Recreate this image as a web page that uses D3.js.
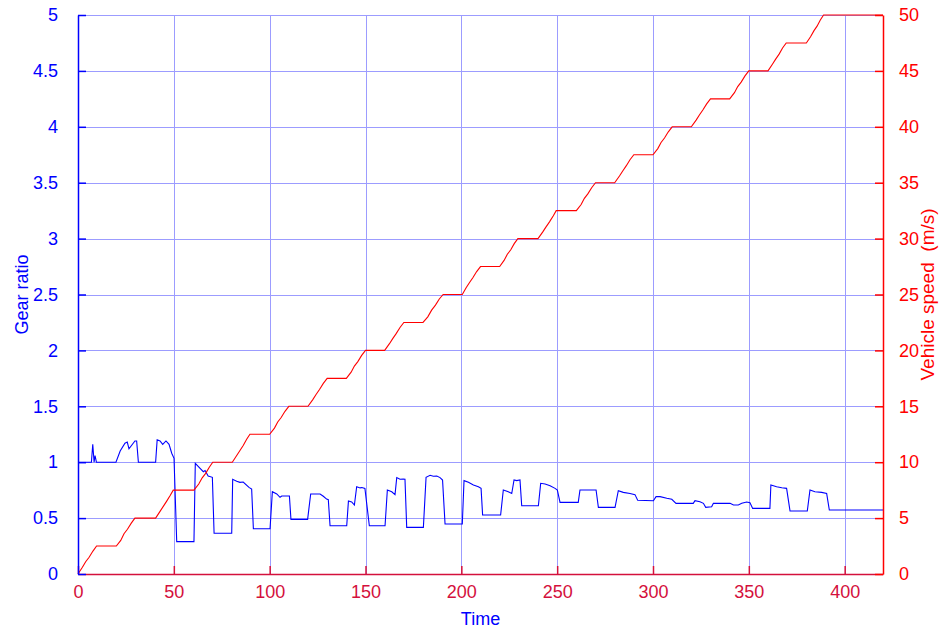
<!DOCTYPE html>
<html><head><meta charset="utf-8">
<script src="https://cdn.jsdelivr.net/npm/d3@7"></script>
<style>body{margin:0;background:#fff}svg{display:block}text{font-family:"Liberation Sans",Arial,sans-serif}</style>
</head><body><svg id="c" width="941" height="632"></svg>
<script>
const xTicks = [0,50,100,150,200,250,300,350,400];
const gearTicks = [0,0.5,1,1.5,2,2.5,3,3.5,4,4.5,5];
const speedTicks = [0,5,10,15,20,25,30,35,40,45,50];

const gearTime = [0,7.0,7.7,8.4,8.9,9.6,19.8,22,24.5,25.7,26.6,29.7,30.6,31.5,40.5,41.3,42.8,44.2,45.9,47.5,48.9,50.1,51.5,60.5,61.2,63.7,65.4,66.3,67.9,70.1,71,80.2,80.7,82.8,84.5,86.2,89.2,90.6,91.5,100.2,101.4,103.7,105.4,106.3,110.3,111.1,119.8,121.4,126.3,128,129.7,130.6,131.5,140.2,141.1,142.8,144.2,145.4,147.2,148.1,149.7,152,160.2,161.4,163.7,165.4,166.3,168,169.7,170.6,171.5,180.2,181.6,183.7,185.4,187.2,188.9,190.2,191.5,200.5,201.4,203.7,206.3,208.9,210.3,211.1,220.5,221.9,224.5,226.3,227.5,228.9,230.6,231.5,240.2,241.4,243.7,246.3,248.9,250.1,251.5,261,261.9,270.3,271.5,280.2,281.9,284.5,288,290.6,292,300.2,301.6,303.7,307.2,309.8,312,321,321.9,324.5,326.3,327.5,330.6,331.5,340.2,342,344.5,346.3,348.9,350.6,352,361,361.5,364.5,367.2,369.7,371.5,380.5,381.9,384.5,388,390.6,392,420];
const gearRatio = [1,1,1.16,1.0,1.06,1.0,1.0,1.1,1.17,1.18,1.12,1.19,1.19,1.0,1.0,1.2,1.19,1.16,1.19,1.16,1.08,1.035,0.29,0.29,0.99,0.945,0.915,0.925,0.877,0.865,0.364,0.364,0.847,0.83,0.82,0.823,0.775,0.76,0.405,0.405,0.736,0.716,0.686,0.698,0.698,0.489,0.489,0.716,0.716,0.695,0.67,0.665,0.432,0.432,0.653,0.645,0.617,0.781,0.77,0.773,0.765,0.432,0.432,0.751,0.736,0.71,0.862,0.847,0.85,0.847,0.417,0.417,0.865,0.883,0.874,0.877,0.862,0.84,0.447,0.447,0.835,0.82,0.796,0.781,0.766,0.528,0.528,0.751,0.736,0.72,0.841,0.835,0.841,0.611,0.611,0.811,0.805,0.79,0.766,0.751,0.641,0.641,0.751,0.751,0.596,0.596,0.745,0.73,0.72,0.71,0.66,0.655,0.692,0.692,0.677,0.668,0.632,0.632,0.656,0.647,0.632,0.596,0.602,0.632,0.632,0.617,0.617,0.632,0.644,0.638,0.587,0.587,0.796,0.781,0.772,0.766,0.563,0.563,0.751,0.736,0.73,0.72,0.572,0.572];

const speedTime = [0,2.3,4,5.8,7.8,9.7, 20,22.3,24,25.8,27.8,29.7, 40.5,42.8,44.5,46.2,48,49.7, 60.5,63,64.8,66.6,68.5,70.3, 80.5,82.8,84.5,86.2,88,89.7, 100,102.5,104.2,106,108,110, 120,122.5,124.2,126,128,130, 140,142.5,144.2,146,148,150, 160,162.5,164.2,166,168,170, 180,182.5,184.5,186.5,188.5,190.5, 200.5,202.5,204.2,206,208,210, 220,222.3,224,225.8,227.6,229.5, 240,242.5,244.2,246,248,249.5, 260,262.5,264.2,266,268,270, 280,282.5,284.2,286,288,290, 300,302.5,304.2,306,308,310, 320,322.5,324.2,326,328,330, 340,342.5,344.2,346,348,350, 360,362.3,364,365.8,367.6,369.5, 380,382.2,384,385.6,387.3,389, 420];
const speedValue = [0,0.6,1.1,1.5,2.05,2.5, 2.5,3.0,3.6,4.0,4.55,5.0, 5,5.6,6.05,6.5,7.0,7.5, 7.5,8.05,8.6,9.0,9.55,10, 10,10.6,11.05,11.5,12.05,12.5, 12.5,13.05,13.6,14.0,14.55,15, 15,15.6,16.05,16.5,17.05,17.5, 17.5,18.05,18.6,19.0,19.55,20, 20,20.6,21.05,21.5,22.05,22.5, 22.5,23.0,23.6,24.05,24.6,25, 25,25.6,26.05,26.5,27.05,27.5, 27.5,28.05,28.6,29.0,29.55,30, 30,30.6,31.05,31.5,32.05,32.5, 32.5,33.05,33.6,34.0,34.55,35, 35,35.6,36.05,36.5,37.05,37.5, 37.5,38.05,38.6,39.0,39.55,40, 40,40.6,41.05,41.5,42.05,42.5, 42.5,43.05,43.6,44.0,44.55,45, 45,45.6,46.05,46.5,47.05,47.5, 47.5,48.05,48.6,49.0,49.55,50, 50];

const L = 78, R = 883, T = 15, B = 574;
const BLUE = "#0000ff", RED = "#ff0000", XCOL = "#d4103c", GRID = "#9c9cff";
const svg = d3.select("#c");
const x = d3.scaleLinear().domain([0,420]).range([L,R]);
const yG = d3.scaleLinear().domain([0,5]).range([B,T]);
const yS = d3.scaleLinear().domain([0,50]).range([B,T]);
const cr = v => Math.round(v) + 0.5;

// grid
const g = svg.append("g");
xTicks.filter(d=>d>0).forEach(d => g.append("line").attr("x1",cr(x(d))).attr("x2",cr(x(d))).attr("y1",T).attr("y2",B).attr("stroke",GRID).attr("stroke-width",1));
gearTicks.filter(d=>d>0).forEach(d => g.append("line").attr("x1",L).attr("x2",R).attr("y1",cr(yG(d))).attr("y2",cr(yG(d))).attr("stroke",GRID).attr("stroke-width",1));

// lines
const gearLine = d3.line().x(d=>x(d[0])).y(d=>yG(d[1]));
const speedLine = d3.line().x(d=>x(d[0])).y(d=>yS(d[1]));
svg.append("path").attr("d", gearLine(d3.zip(gearTime, gearRatio))).attr("fill","none").attr("stroke",BLUE).attr("stroke-width",1.1);
svg.append("path").attr("d", speedLine(d3.zip(speedTime, speedValue))).attr("fill","none").attr("stroke",RED).attr("stroke-width",1.1);

// axes
const fs = "18px";
const ax = svg.append("g").attr("transform",`translate(0,${cr(B)-0.5})`)
  .call(d3.axisBottom(x).tickValues(xTicks).tickSizeInner(-8).tickSizeOuter(0).tickPadding(11));
ax.selectAll("path,line").attr("stroke",XCOL).attr("stroke-width",1.5);
ax.selectAll("text").attr("fill",XCOL).style("font-size",fs).style("font-family","'Liberation Sans',Arial,sans-serif");

const ayL = svg.append("g").attr("transform",`translate(${cr(L)-0.5},0)`)
  .call(d3.axisLeft(yG).tickValues(gearTicks).tickFormat(d3.format("")).tickSizeInner(-8).tickSizeOuter(0).tickPadding(20));
ayL.selectAll("path,line").attr("stroke",BLUE).attr("stroke-width",1.5);
ayL.selectAll("text").attr("fill",BLUE).style("font-size",fs).style("font-family","'Liberation Sans',Arial,sans-serif");

const ayR = svg.append("g").attr("transform",`translate(${cr(R)-0.5},0)`)
  .call(d3.axisRight(yS).tickValues(speedTicks).tickSizeInner(-8).tickSizeOuter(0).tickPadding(16));
ayR.selectAll("path,line").attr("stroke",RED).attr("stroke-width",1.5);
ayR.selectAll("text").attr("fill",RED).style("font-size",fs).style("font-family","'Liberation Sans',Arial,sans-serif");
svg.selectAll(".domain").attr("stroke-width",1.5);

// labels
svg.append("text").text("Time").attr("x",(L+R)/2).attr("y",625).attr("text-anchor","middle").attr("fill",BLUE).style("font-size",fs);
svg.append("text").text("Gear ratio").attr("transform",`translate(28,${(T+B)/2}) rotate(-90)`).attr("text-anchor","middle").attr("fill",BLUE).style("font-size",fs);
svg.append("text").text("Vehicle speed  (m/s)").attr("transform",`translate(934,${(T+B)/2}) rotate(-90)`).attr("text-anchor","middle").attr("fill",RED).style("font-size","19px").style("white-space","pre");
</script></body></html>
